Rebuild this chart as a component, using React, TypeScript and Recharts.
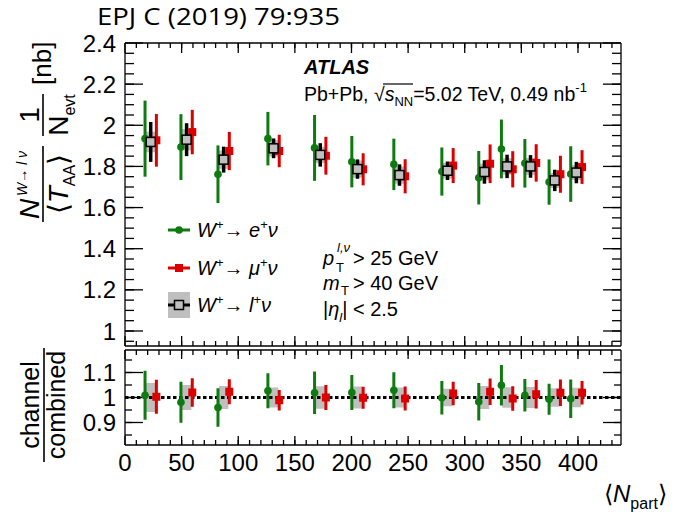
import React from "react";
import {
  ComposedChart,
  ErrorBar,
  ReferenceArea,
  ReferenceLine,
  Scatter,
  XAxis,
  YAxis,
} from "recharts";

// centrality bins, <Npart> of the combined measurement
const npart = [22.7, 54.4, 87.1, 131.2, 172.4, 205.3, 242.4, 284.8, 317.4, 337.4, 358.1, 379.5, 398.6];

// yields per <TAA> per event [nb]
const yieldE = [1.935, 1.894, 1.762, 1.935, 1.89, 1.823, 1.81, 1.775, 1.745, 1.885, 1.815, 1.724, 1.763];
const yieldEErr = [0.185, 0.16, 0.14, 0.13, 0.16, 0.125, 0.125, 0.117, 0.13, 0.143, 0.118, 0.11, 0.135];
const yieldMu = [1.927, 1.967, 1.875, 1.875, 1.852, 1.786, 1.752, 1.804, 1.813, 1.786, 1.817, 1.762, 1.797];
const yieldMuErr = [0.128, 0.108, 0.093, 0.079, 0.092, 0.078, 0.083, 0.085, 0.094, 0.088, 0.091, 0.09, 0.082];
const yieldComb = [1.919, 1.93, 1.833, 1.888, 1.856, 1.787, 1.758, 1.779, 1.773, 1.8, 1.8, 1.732, 1.77];
const yieldCombStat = [0.097, 0.08, 0.063, 0.048, 0.057, 0.047, 0.052, 0.045, 0.057, 0.057, 0.055, 0.052, 0.052];
const yieldCombSyst = [0.05, 0.052, 0.044, 0.04, 0.04, 0.042, 0.042, 0.038, 0.04, 0.04, 0.041, 0.037, 0.036];

// channel / combined
const ratioE = [1.009, 0.981, 0.96, 1.027, 1.019, 1.02, 1.029, 0.999, 0.983, 1.049, 1.009, 0.993, 0.995];
const ratioEErr = [0.098, 0.082, 0.077, 0.07, 0.085, 0.07, 0.072, 0.067, 0.075, 0.081, 0.065, 0.062, 0.077];
const ratioMu = [1.003, 1.02, 1.023, 0.989, 1.0, 0.999, 0.996, 1.016, 1.023, 0.996, 1.013, 1.019, 1.019];
const ratioMuErr = [0.068, 0.057, 0.05, 0.041, 0.05, 0.044, 0.048, 0.047, 0.053, 0.049, 0.057, 0.053, 0.047];
const ratioSyst = [0.058, 0.05, 0.046, 0.04, 0.045, 0.044, 0.04, 0.035, 0.046, 0.041, 0.042, 0.037, 0.039];

// axis ticks
const xMajorTicks = [0, 50, 100, 150, 200, 250, 300, 350, 400];
const yTopMajorTicks = [1, 1.2, 1.4, 1.6, 1.8, 2, 2.2, 2.4];
const yBotMajorTicks = [0.9, 1, 1.1];

const steps = (from: number, to: number, step: number) => {
  const out: number[] = [];
  for (let v = from; v <= to + 1e-9; v += step) out.push(Math.round(v * 1000) / 1000);
  return out;
};
const xMinorTicks = steps(10, 430, 10);
const yTopMinorTicks = steps(0.95, 2.35, 0.05);
const yBotMinorTicks = steps(0.85, 1.15, 0.05);

const W = 677;
const H = 515;
const FONT = "'Liberation Sans', Arial, Helvetica, sans-serif";
const GREEN = "#0f7a0f";
const RED = "#dc0000";
const GRAY = "#bfbfbf";
const X_DOMAIN: [number, number] = [0, 438];
const SHIFT = 5; // channels drawn either side of the combined point
const BOX_HALF_TOP = 5;
const BOX_HALF_BOT = 4.2;
const LEFT = 125;
const RIGHT = 621;

const pts = (xs: number[], ys: number[], errs: number[], dx: number) =>
  xs.map((n, i) => ({ x: n + dx, y: ys[i], err: errs[i] }));

const eTop = pts(npart, yieldE, yieldEErr, -SHIFT);
const muTop = pts(npart, yieldMu, yieldMuErr, SHIFT);
const combTop = pts(npart, yieldComb, yieldCombStat, 0);
const eBot = pts(npart, ratioE, ratioEErr, -SHIFT);
const muBot = pts(npart, ratioMu, ratioMuErr, SHIFT);

const dot = (color: string) => (p: any) => <circle cx={p.cx} cy={p.cy} r={3.8} fill={color} />;
const square = (color: string, s: number) => (p: any) => (
  <rect x={p.cx - s / 2} y={p.cy - s / 2} width={s} height={s} fill={color} />
);
const openSquare = (p: any) => (
  <rect x={p.cx - 4.5} y={p.cy - 4.5} width={9} height={9} fill={GRAY} stroke="#000" strokeWidth={1.5} />
);

const axisLine = { stroke: "#000", strokeWidth: 1.3 };

const leftLabel = (p: any) => (
  <text x={p.x} y={p.y} dy="0.36em" textAnchor="end" fontSize={24} fontFamily={FONT} fill="#000">
    {p.payload.value}
  </text>
);
const bottomLabel = (p: any) => (
  <text x={p.x} y={p.y} dy="0.72em" textAnchor="middle" fontSize={24} fontFamily={FONT} fill="#000">
    {p.payload.value}
  </text>
);

type Frame = {
  top: number;
  bottom: number;
  yDomain: [number, number];
  yMajor: number[];
  yMinor: number[];
  yMajorLen: number;
  yMinorLen: number;
  xMajorLen: number;
  xMinorLen: number;
  xLabels: boolean;
};

// the four frame sides; labels only on the left and (optionally) bottom
function frameAxes(o: Frame) {
  const common = { type: "number" as const, allowDataOverflow: true, interval: 0 as const, tickLine: false };
  return [
    <XAxis key="xb" xAxisId="x" dataKey="x" domain={X_DOMAIN} {...common} ticks={xMajorTicks}
      height={1} axisLine={axisLine} tickMargin={3} tick={o.xLabels ? bottomLabel : false} />,
    <XAxis key="xt" xAxisId="xt" orientation="top" domain={X_DOMAIN} {...common} ticks={xMajorTicks}
      height={1} axisLine={axisLine} tick={false} />,
    <YAxis key="yl" yAxisId="y" dataKey="y" domain={o.yDomain} {...common} ticks={o.yMajor}
      width={1} axisLine={axisLine} tickMargin={3} tick={leftLabel} />,
    <YAxis key="yr" yAxisId="yr" orientation="right" domain={o.yDomain} {...common} ticks={o.yMajor}
      width={1} axisLine={axisLine} tick={false} />,
  ];
}

// ROOT-style inward tick marks on all four sides, lengths given in pixels
function frameTicks(o: Frame) {
  const xPerPx = (X_DOMAIN[1] - X_DOMAIN[0]) / (RIGHT - LEFT);
  const yPerPx = (o.yDomain[1] - o.yDomain[0]) / (o.bottom - o.top);
  const [x0, x1] = X_DOMAIN;
  const [y0, y1] = o.yDomain;
  const seg = (key: string, a: { x: number; y: number }, b: { x: number; y: number }) => (
    <ReferenceLine key={key} xAxisId="x" yAxisId="y" segment={[a, b]} stroke="#000" strokeWidth={1.3}
      ifOverflow="visible" />
  );
  const out: React.ReactNode[] = [];
  const yTick = (v: number, len: number, k: string) => {
    out.push(seg("l" + k + v, { x: x0, y: v }, { x: x0 + len * xPerPx, y: v }));
    out.push(seg("r" + k + v, { x: x1, y: v }, { x: x1 - len * xPerPx, y: v }));
  };
  const xTick = (v: number, len: number, k: string) => {
    out.push(seg("b" + k + v, { x: v, y: y0 }, { x: v, y: y0 + len * yPerPx }));
    out.push(seg("t" + k + v, { x: v, y: y1 }, { x: v, y: y1 - len * yPerPx }));
  };
  o.yMinor.forEach((v) => yTick(v, o.yMinorLen, "m"));
  o.yMajor.forEach((v) => yTick(v, o.yMajorLen, "M"));
  xMinorTicks.forEach((v) => xTick(v, o.xMinorLen, "m"));
  xMajorTicks.forEach((v) => xTick(v, o.xMajorLen, "M"));
  return out;
}

// plot-area edges in page pixels (one 1px axis band per side)
const frameMargin = (top: number, bottom: number) => ({
  top: top - 1,
  bottom: H - bottom - 1,
  left: LEFT - 1,
  right: W - RIGHT - 1,
});

const TOP_FRAME: Frame = {
  top: 43,
  bottom: 346,
  yDomain: [0.927, 2.4],
  yMajor: yTopMajorTicks,
  yMinor: yTopMinorTicks,
  yMajorLen: 18,
  yMinorLen: 9,
  xMajorLen: 10,
  xMinorLen: 5,
  xLabels: false,
};

const BOT_FRAME: Frame = {
  top: 350,
  bottom: 445,
  yDomain: [0.81, 1.19],
  yMajor: yBotMajorTicks,
  yMinor: yBotMinorTicks,
  yMajorLen: 18,
  yMinorLen: 7,
  xMajorLen: 9,
  xMinorLen: 5,
  xLabels: true,
};

function TopPanel() {
  return (
    <ComposedChart width={W} height={H} margin={frameMargin(TOP_FRAME.top, TOP_FRAME.bottom)}>
      {frameAxes(TOP_FRAME)}
      {npart.map((n, i) => (
        <ReferenceArea key={"sys" + i} xAxisId="x" yAxisId="y"
          x1={n - BOX_HALF_TOP} x2={n + BOX_HALF_TOP}
          y1={yieldComb[i] - yieldCombSyst[i]} y2={yieldComb[i] + yieldCombSyst[i]}
          fill={GRAY} fillOpacity={1} stroke="none" />
      ))}
      {frameTicks(TOP_FRAME)}
      <Scatter name="e" data={eTop} xAxisId="x" yAxisId="y" shape={dot(GREEN)} isAnimationActive={false}>
        <ErrorBar dataKey="err" direction="y" width={0} stroke={GREEN} strokeWidth={3} />
      </Scatter>
      <Scatter name="mu" data={muTop} xAxisId="x" yAxisId="y" shape={square(RED, 8)} isAnimationActive={false}>
        <ErrorBar dataKey="err" direction="y" width={0} stroke={RED} strokeWidth={3} />
      </Scatter>
      <Scatter name="comb" data={combTop} xAxisId="x" yAxisId="y" shape={openSquare} isAnimationActive={false}>
        <ErrorBar dataKey="err" direction="y" width={0} stroke="#000" strokeWidth={3.5} />
      </Scatter>
    </ComposedChart>
  );
}

function RatioPanel() {
  return (
    <ComposedChart width={W} height={H} margin={frameMargin(BOT_FRAME.top, BOT_FRAME.bottom)}>
      {frameAxes(BOT_FRAME)}
      {npart.map((n, i) => (
        <ReferenceArea key={"rsys" + i} xAxisId="x" yAxisId="y"
          x1={n - BOX_HALF_BOT} x2={n + BOX_HALF_BOT}
          y1={1 - ratioSyst[i]} y2={1 + ratioSyst[i]}
          fill={GRAY} fillOpacity={1} stroke="none" />
      ))}
      {frameTicks(BOT_FRAME)}
      <ReferenceLine xAxisId="x" yAxisId="y" y={1} stroke="#000" strokeWidth={3} strokeDasharray="3.5 2.5" />
      <Scatter name="e" data={eBot} xAxisId="x" yAxisId="y" shape={dot(GREEN)} isAnimationActive={false}>
        <ErrorBar dataKey="err" direction="y" width={0} stroke={GREEN} strokeWidth={3} />
      </Scatter>
      <Scatter name="mu" data={muBot} xAxisId="x" yAxisId="y" shape={square(RED, 8)} isAnimationActive={false}>
        <ErrorBar dataKey="err" direction="y" width={0} stroke={RED} strokeWidth={3} />
      </Scatter>
    </ComposedChart>
  );
}

function LegendRow({ y, label }: { y: number; label: React.ReactNode }) {
  return (
    <text x={197} y={y + 7} fontSize={20} fontFamily={FONT}>
      {label}
    </text>
  );
}

function Overlay() {
  const sup = { fontSize: 13 };
  return (
    <svg width={W} height={H} style={{ position: "absolute", left: 0, top: 0, pointerEvents: "none" }}
      fontFamily={FONT} fill="#000">
      <text x={97} y={25} fontSize={24} fontFamily="'Open Sans', sans-serif" textLength={243}
        lengthAdjust="spacingAndGlyphs">EPJ C (2019) 79:935</text>

      {/* y title: N^{W->l nu} / <T_AA> * 1 / N_evt [nb] */}
      <g transform="translate(43 222) rotate(-90)">
        <text x={3} y={-4} fontSize={28} fontStyle="italic">N</text>
        <text x={26} y={-16} fontSize={14} fontStyle="italic">
          W<tspan fontStyle="normal">→</tspan> l ν
        </text>
        <line x1={0} x2={76} y1={0} y2={0} stroke="#000" strokeWidth={1.6} />
        <text x={38} y={25} fontSize={28} textAnchor="middle">
          ⟨<tspan fontStyle="italic">T</tspan>
          <tspan fontSize={16} dy={7}>AA</tspan>
          <tspan dy={-7}>⟩</tspan>
        </text>
        <text x={107} y={-4} fontSize={28} textAnchor="middle">1</text>
        <line x1={86} x2={128} y1={0} y2={0} stroke="#000" strokeWidth={1.6} />
        <text x={107} y={25} fontSize={28} textAnchor="middle">
          N<tspan fontSize={16} dy={7}>evt</tspan>
        </text>
        <text x={137} y={8} fontSize={26}>[nb]</text>
      </g>

      {/* ratio title */}
      <g transform="translate(44 405) rotate(-90)">
        <text x={0} y={-5} fontSize={25} textAnchor="middle">channel</text>
        <line x1={-57} x2={57} y1={0} y2={0} stroke="#000" strokeWidth={1.6} />
        <text x={0} y={21} fontSize={25} textAnchor="middle">combined</text>
      </g>

      {/* x title */}
      <text x={604} y={502} fontSize={24}>
        ⟨<tspan fontStyle="italic">N</tspan>
        <tspan fontSize={16} dy={7}>part</tspan>
        <tspan dy={-7}>⟩</tspan>
      </text>

      <text x={304} y={74} fontSize={20} fontWeight="bold" fontStyle="italic">ATLAS</text>
      <text x={304} y={101} fontSize={19.5}>
        Pb+Pb, √<tspan fontStyle="italic">s</tspan>
        <tspan fontSize={13} dy={5}>NN</tspan>
        <tspan dy={-5}>=5.02 TeV, 0.49 nb</tspan>
        <tspan fontSize={13} dy={-9}>-1</tspan>
      </text>
      <line x1={383} x2={413} y1={84} y2={84} stroke="#000" strokeWidth={1.2} />

      {/* selection */}
      <text x={323} y={265} fontSize={20} fontStyle="italic">p</text>
      <text x={336} y={272} fontSize={13}>T</text>
      <text x={337} y={252} fontSize={13} fontStyle="italic">l,ν</text>
      <text x={353} y={265} fontSize={20}>&gt; 25 GeV</text>
      <text x={323} y={290} fontSize={20} fontStyle="italic">m</text>
      <text x={341} y={295} fontSize={13}>T</text>
      <text x={353} y={290} fontSize={20}>&gt; 40 GeV</text>
      <text x={323} y={316} fontSize={20}>
        |<tspan fontStyle="italic">η</tspan>
        <tspan fontSize={13} fontStyle="italic" dy={6}>l</tspan>
        <tspan dy={-6}>| &lt; 2.5</tspan>
      </text>

      {/* legend */}
      <line x1={168} x2={190} y1={230} y2={230} stroke={GREEN} strokeWidth={3} />
      <circle cx={179} cy={230} r={3.8} fill={GREEN} />
      <LegendRow y={230} label={<>
        <tspan fontStyle="italic">W</tspan><tspan {...sup} dy={-8}>+</tspan>
        <tspan dy={8}>→ </tspan><tspan fontStyle="italic">e</tspan>
        <tspan {...sup} dy={-8}>+</tspan><tspan dy={8} fontStyle="italic">ν</tspan>
      </>} />
      <line x1={168} x2={190} y1={268} y2={268} stroke={RED} strokeWidth={3} />
      <rect x={175} y={264} width={8} height={8} fill={RED} />
      <LegendRow y={268} label={<>
        <tspan fontStyle="italic">W</tspan><tspan {...sup} dy={-8}>+</tspan>
        <tspan dy={8}>→ </tspan><tspan fontStyle="italic">μ</tspan>
        <tspan {...sup} dy={-8}>+</tspan><tspan dy={8} fontStyle="italic">ν</tspan>
      </>} />
      <rect x={168} y={292} width={22} height={26} fill={GRAY} />
      <line x1={168} x2={190} y1={305} y2={305} stroke="#000" strokeWidth={3} />
      <rect x={174.5} y={300.5} width={9} height={9} fill={GRAY} stroke="#000" strokeWidth={1.5} />
      <LegendRow y={305} label={<>
        <tspan fontStyle="italic">W</tspan><tspan {...sup} dy={-8}>+</tspan>
        <tspan dy={8}>→ </tspan><tspan fontStyle="italic">l</tspan>
        <tspan {...sup} dy={-8}>+</tspan><tspan dy={8} fontStyle="italic">ν</tspan>
      </>} />
    </svg>
  );
}

export default function App() {
  return (
    <div style={{ position: "absolute", left: 0, top: 0, width: W, height: H, background: "#fff", fontFamily: FONT }}>
      <div style={{ position: "absolute", left: 0, top: 0 }}>
        <TopPanel />
      </div>
      <div style={{ position: "absolute", left: 0, top: 0 }}>
        <RatioPanel />
      </div>
      <Overlay />
    </div>
  );
}
